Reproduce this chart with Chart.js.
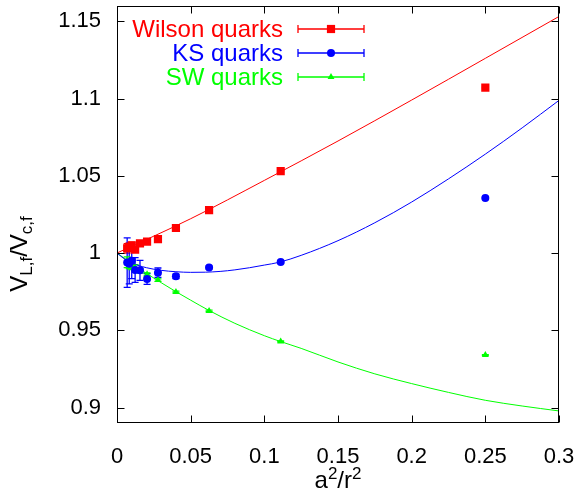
<!DOCTYPE html>
<html><head><meta charset="utf-8">
<script src="https://cdn.jsdelivr.net/npm/chart.js@4/dist/chart.umd.min.js"></script>
<style>html,body{margin:0;padding:0;background:#fff}canvas{display:block}</style>
</head><body>
<div style="width:578px;height:498px"><canvas id="c" width="578" height="498"></canvas></div>
<script>
// ---- data ----
const xTicks = [0, 0.05, 0.1, 0.15, 0.2, 0.25, 0.3];
const yTicks = [0.9, 0.95, 1, 1.05, 1.1, 1.15];

const xData = [0.25, 0.1111, 0.0625, 0.04, 0.0278, 0.0204, 0.0156, 0.0123, 0.01, 0.0083, 0.0069];

const wilson    = [1.107, 1.053, 1.0278, 1.0162, 1.009, 1.0074, 1.0063, 1.0022, 1.0050, 1.0040, 1.0030];
const wilsonErr = [0.0003, 0.0004, 0.0005, 0.0006, 0.0008, 0.001, 0.0012, 0.0015, 0.002, 0.0025, 0.003];

const ks    = [1.0356, 0.9942, 0.9906, 0.9849, 0.9873, 0.9832, 0.9888, 0.9890, 0.9950, 0.9930, 0.9938];
const ksErr = [0.0004, 0.0006, 0.0009, 0.0015, 0.003, 0.0035, 0.0065, 0.008, 0.0115, 0.013, 0.016];

const sw    = [0.934, 0.9427, 0.9625, 0.9748, 0.9825, 0.9862, 0.9885, 0.9905, 0.9918, 0.9930, 0.9940];
const swErr = [0.0003, 0.0004, 0.0005, 0.0006, 0.0008, 0.001, 0.0015, 0.002, 0.0025, 0.003, 0.0035];

const fitWx = [0, 0.05, 0.1, 0.15, 0.2, 0.25, 0.3];
const fitWy = [1, 1.0222, 1.0470, 1.0725, 1.0990, 1.1260, 1.1531];

const fitKx = [0, 0.005, 0.01, 0.02, 0.03, 0.04, 0.05, 0.06, 0.07, 0.08, 0.09, 0.1, 0.11, 0.125, 0.15, 0.175, 0.2, 0.225, 0.25, 0.275, 0.3];
const fitKy = [1, 0.9962, 0.9935, 0.9905, 0.9888, 0.9879, 0.9875, 0.9876, 0.9881, 0.9891, 0.9905, 0.9922, 0.9940, 0.9985, 1.0080, 1.0196, 1.0330, 1.0480, 1.0640, 1.0810, 1.0988];

const fitSx = [0, 0.01, 0.02, 0.03, 0.04, 0.05, 0.0625, 0.08, 0.1, 0.1111, 0.125, 0.15, 0.175, 0.2, 0.225, 0.25, 0.275, 0.3];
const fitSy = [1, 0.9932, 0.9868, 0.9808, 0.9750, 0.9695, 0.9628, 0.9545, 0.9465, 0.9427, 0.9383, 0.9295, 0.9218, 0.9155, 0.9098, 0.9047, 0.9010, 0.8978];

const labels = ['Wilson quarks', 'KS quarks', 'SW quarks'];
const colors = ['#ff0000', '#0000ff', '#00ff00'];

const FONT = '"Liberation Sans", Arial, Helvetica, sans-serif';
const zip = (xs, ys) => xs.map((x, i) => ({x: x, y: ys[i]}));

const styles = ['rect', 'circle', 'triangle'];
const radii = [5.8, 4, 4];

const pointSets = [
  {label: labels[0], data: zip(xData, wilson), err: wilsonErr},
  {label: labels[1], data: zip(xData, ks), err: ksErr},
  {label: labels[2], data: zip(xData, sw), err: swErr}
].map((d, i) => ({
  label: d.label, data: d.data, err: d.err, showLine: false,
  pointStyle: styles[i], pointRadius: radii[i], pointHoverRadius: radii[i],
  backgroundColor: colors[i], borderColor: colors[i], borderWidth: 0, order: 0, isPoints: true, barColor: colors[i]
}));

const fitSets = [[fitWx, fitWy, colors[0]], [fitKx, fitKy, colors[1]], [fitSx, fitSy, colors[2]]].map(f => ({
  label: 'fit', data: zip(f[0], f[1]), showLine: true, pointRadius: 0, borderColor: f[2],
  borderWidth: 1, tension: 0.4, cubicInterpolationMode: 'monotone', fill: false, order: 1
}));

const errorBars = {
  id: 'errorBars',
  beforeDatasetsDraw(chart) {
    const ctx = chart.ctx, xs = chart.scales.x, ys = chart.scales.y, a = chart.chartArea;
    ctx.save();
    ctx.beginPath(); ctx.rect(a.left, a.top, a.right - a.left, a.bottom - a.top); ctx.clip();
    chart.data.datasets.forEach(ds => {
      if (!ds.isPoints) return;
      ctx.strokeStyle = ds.barColor; ctx.lineWidth = 1.3;
      ds.data.forEach((p, i) => {
        const px = xs.getPixelForValue(p.x);
        const y1 = ys.getPixelForValue(p.y + ds.err[i]);
        const y2 = ys.getPixelForValue(p.y - ds.err[i]);
        ctx.beginPath();
        ctx.moveTo(px, y1); ctx.lineTo(px, y2);
        ctx.moveTo(px - 3.5, y1); ctx.lineTo(px + 3.5, y1);
        ctx.moveTo(px - 3.5, y2); ctx.lineTo(px + 3.5, y2);
        ctx.stroke();
      });
    });
    ctx.restore();
  }
};

const frame = {
  id: 'frame',
  afterDatasetsDraw(chart) {
    const ctx = chart.ctx, xs = chart.scales.x, ys = chart.scales.y, a = chart.chartArea;
    ctx.save();
    ctx.strokeStyle = '#000'; ctx.lineWidth = 1;
    const L = Math.round(a.left) + 0.5, R = Math.round(a.right) - 0.5, T = Math.round(a.top) + 0.5, B = Math.round(a.bottom) - 0.5;
    ctx.strokeRect(L, T, R - L, B - T);
    const tl = 7;
    ctx.beginPath();
    xTicks.forEach(v => {
      const px = Math.round(xs.getPixelForValue(v)) + 0.5;
      ctx.moveTo(px, B); ctx.lineTo(px, B - tl);
      ctx.moveTo(px, T); ctx.lineTo(px, T + tl);
    });
    yTicks.forEach(v => {
      const py = Math.round(ys.getPixelForValue(v)) + 0.5;
      ctx.moveTo(L, py); ctx.lineTo(L + tl, py);
      ctx.moveTo(R, py); ctx.lineTo(R - tl, py);
    });
    ctx.stroke();
    ctx.restore();
  }
};

const legendAndTitles = {
  id: 'legendAndTitles',
  afterDraw(chart) {
    const ctx = chart.ctx;
    ctx.save();
    // legend
    const rows = [29, 53, 77];
    const textRight = 283, x1 = 298, x2 = 364, xm = 331;
    rows.forEach((y, i) => {
      ctx.font = '24px ' + FONT;
      ctx.textAlign = 'right'; ctx.textBaseline = 'middle';
      ctx.fillStyle = colors[i];
      ctx.fillText(labels[i], textRight, y + 1);
      ctx.strokeStyle = colors[i]; ctx.lineWidth = 1.3;
      ctx.beginPath();
      ctx.moveTo(x1, y); ctx.lineTo(x2, y);
      ctx.moveTo(x1, y - 4); ctx.lineTo(x1, y + 4);
      ctx.moveTo(x2, y - 4); ctx.lineTo(x2, y + 4);
      ctx.stroke();
      ctx.fillStyle = colors[i]; ctx.strokeStyle = colors[i];
      Chart.helpers.drawPoint(ctx, {pointStyle: styles[i], radius: radii[i], borderWidth: 0}, xm, y);
    });
    // x title: a^2/r^2
    ctx.fillStyle = '#000'; ctx.textAlign = 'left'; ctx.textBaseline = 'alphabetic';
    const big = '24px ' + FONT, small = '17px ' + FONT;
    const xParts = [['a', big, 0], ['2', small, -9], ['/r', big, 0], ['2', small, -9]];
    let w = 0;
    xParts.forEach(p => { ctx.font = p[1]; w += ctx.measureText(p[0]).width; });
    let cx = 338 - w / 2; const by = 488;
    xParts.forEach(p => { ctx.font = p[1]; ctx.fillText(p[0], cx, by + p[2]); cx += ctx.measureText(p[0]).width; });
    // y title: V_{L,f}/V_{c,f}
    const yParts = [['V', big, 0], ['L,f', small, 5], ['/V', big, 0], ['c,f', small, 5]];
    w = 0;
    yParts.forEach(p => { ctx.font = p[1]; w += ctx.measureText(p[0]).width; });
    ctx.translate(27, 254);
    ctx.rotate(-Math.PI / 2);
    cx = -w / 2;
    yParts.forEach(p => { ctx.font = p[1]; ctx.fillText(p[0], cx, p[2]); cx += ctx.measureText(p[0]).width; });
    ctx.restore();
  }
};

const noPad = s => { s.paddingTop = 0; s.paddingBottom = 0; s.paddingLeft = 0; s.paddingRight = 0; };

new Chart(document.getElementById('c'), {
  type: 'scatter',
  data: {datasets: pointSets.concat(fitSets)},
  options: {
    responsive: false, animation: false, devicePixelRatio: 1,
    layout: {padding: {top: 5, right: 19, left: 0, bottom: 0}},
    plugins: {legend: {display: false}, tooltip: {enabled: false}},
    scales: {
      x: {
        type: 'linear', min: 0, max: 0.3,
        afterBuildTicks: s => { s.ticks = xTicks.map(v => ({value: v})); },
        afterFit: s => { s.height = 75; noPad(s); },
        grid: {display: false, drawTicks: false}, border: {display: false},
        ticks: {padding: 21, color: '#000', font: {family: FONT, size: 22}, maxRotation: 0, callback: v => String(+v.toFixed(3))}
      },
      y: {
        type: 'linear', min: 0.89, max: 1.16,
        afterBuildTicks: s => { s.ticks = yTicks.map(v => ({value: v})); },
        afterFit: s => { s.width = 117; noPad(s); },
        grid: {display: false, drawTicks: false}, border: {display: false},
        ticks: {padding: 16, color: '#000', font: {family: FONT, size: 22}, callback: v => String(+v.toFixed(3))}
      }
    }
  },
  plugins: [errorBars, frame, legendAndTitles]
});
</script>
</body></html>
